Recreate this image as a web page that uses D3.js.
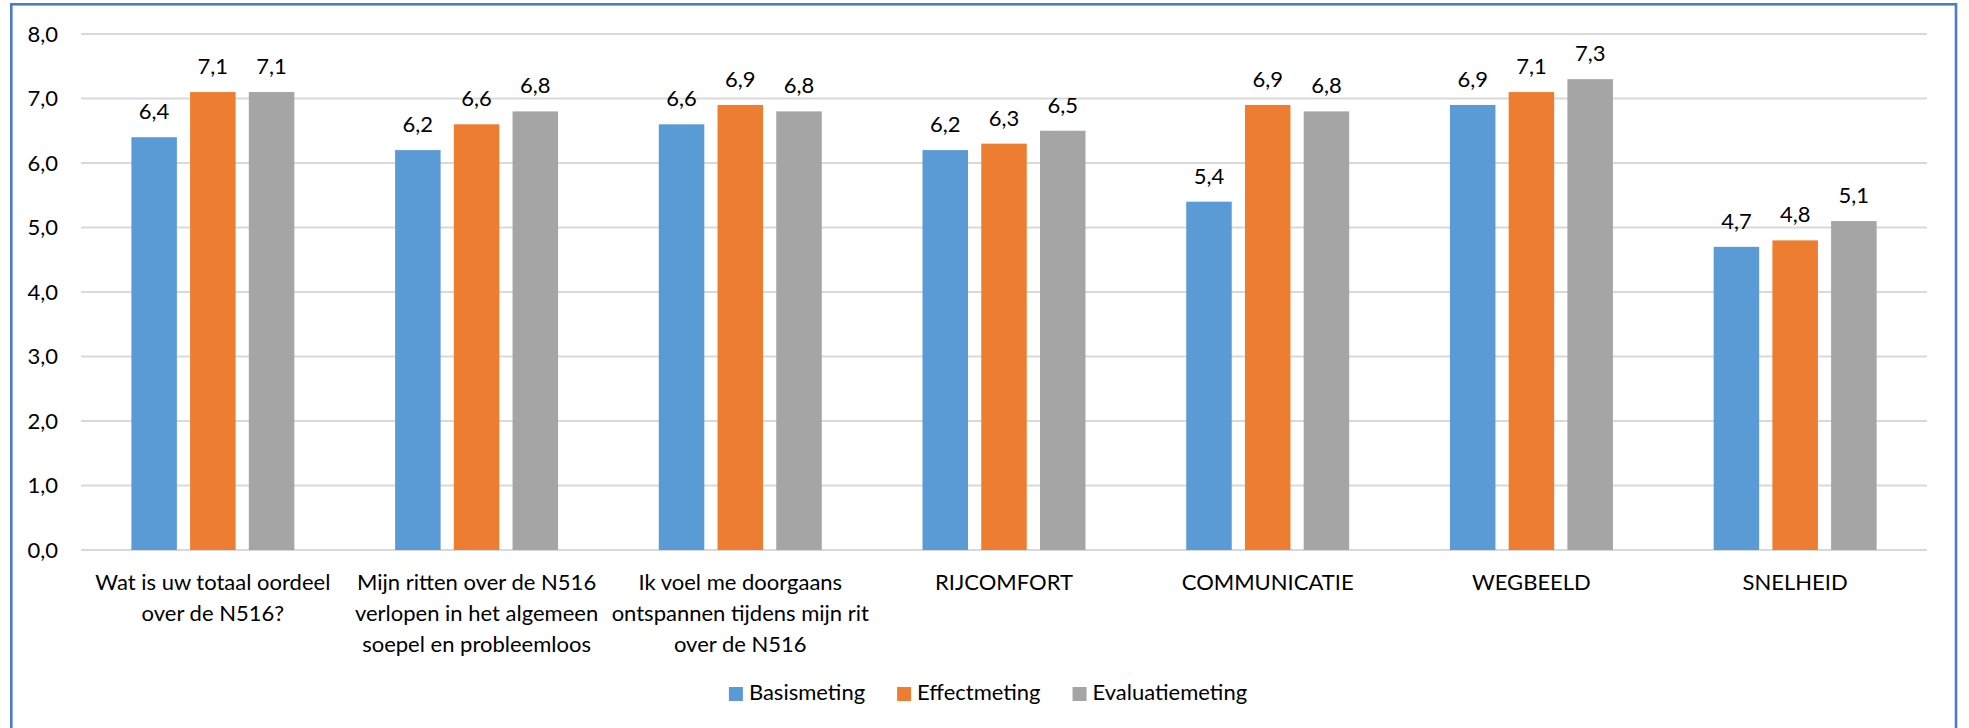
<!DOCTYPE html>
<html>
<head>
<meta charset="utf-8">
<script src="https://cdn.jsdelivr.net/npm/d3@7"></script>
<style>
  html, body { margin: 0; padding: 0; background: #ffffff; }
  svg { display: block; }
  text { font-family: Lato, "Open Sans", sans-serif; fill: #000; }
</style>
</head>
<body>
<svg id="chart" width="1969" height="728"></svg>
<script>
// Category labels; "\n" marks the line breaks used under the axis
const categories = [
  "Wat is uw totaal oordeel\nover de N516?",
  "Mijn ritten over de N516\nverlopen in het algemeen\nsoepel en probleemloos",
  "Ik voel me doorgaans\nontspannen tijdens mijn rit\nover de N516",
  "RIJCOMFORT",
  "COMMUNICATIE",
  "WEGBEELD",
  "SNELHEID"
];
const seriesNames = ["Basismeting", "Effectmeting", "Evaluatiemeting"];
const basismeting     = [6.4, 6.2, 6.6, 6.2, 5.4, 6.9, 4.7];
const effectmeting    = [7.1, 6.6, 6.9, 6.3, 6.9, 7.1, 4.8];
const evaluatiemeting = [7.1, 6.8, 6.8, 6.5, 6.8, 7.3, 5.1];
const yTicks = [0, 1, 2, 3, 4, 5, 6, 7, 8];
const colors = ["#5B9BD5", "#ED7D31", "#A5A5A5"];

const seriesValues = [basismeting, effectmeting, evaluatiemeting];
const fmt = v => d3.format(".1f")(v).replace(".", ",");

const svg = d3.select("#chart");
const plot = { left: 81, right: 1927, top: 34, bottom: 550 };

const x0 = d3.scaleBand().domain(d3.range(categories.length))
  .range([plot.left, plot.right]).padding(0);
const bw = x0.bandwidth();
const x1 = d3.scaleBand().domain(d3.range(seriesNames.length))
  .range([bw * 0.191, bw * 0.809]).paddingInner(0.225).paddingOuter(0);
const y = d3.scaleLinear().domain([0, 8]).range([plot.bottom, plot.top]);

// Outer frame
svg.append("rect")
  .attr("x", 11.3).attr("y", 4.3)
  .attr("width", 1956 - 11.3).attr("height", 760)
  .attr("fill", "none").attr("stroke", "#4A7CCB").attr("stroke-width", 2.6);

// Horizontal gridlines
svg.append("g").selectAll("line").data(yTicks).join("line")
  .attr("x1", plot.left).attr("x2", plot.right)
  .attr("y1", d => y(d)).attr("y2", d => y(d))
  .attr("stroke", "#D9D9D9").attr("stroke-width", 2);

// Y axis labels
const yAxis = d3.axisLeft(y).tickValues(yTicks).tickFormat(fmt).tickSize(0).tickPadding(0);
const yg = svg.append("g").attr("transform", "translate(58,0)").call(yAxis);
yg.select(".domain").remove();
yg.selectAll("text").attr("font-family", "Lato, sans-serif").attr("font-size", 22)
  .attr("fill", "#000");

// Bars
const groups = svg.append("g").selectAll("g").data(categories).join("g")
  .attr("transform", (d, i) => `translate(${x0(i)},0)`);

groups.selectAll("rect")
  .data((d, i) => seriesValues.map((vals, s) => ({ s, v: vals[i] })))
  .join("rect")
  .attr("x", d => x1(d.s))
  .attr("width", x1.bandwidth())
  .attr("y", d => y(d.v))
  .attr("height", d => y(0) - y(d.v))
  .attr("fill", d => colors[d.s]);

// Value labels
groups.selectAll("text.val")
  .data((d, i) => seriesValues.map((vals, s) => ({ s, v: vals[i] })))
  .join("text").attr("class", "val")
  .attr("x", d => x1(d.s) + x1.bandwidth() / 2)
  .attr("y", d => y(d.v) - 18)
  .attr("text-anchor", "middle")
  .attr("font-size", 22)
  .text(d => fmt(d.v));

// Category labels
const xg = svg.append("g");
categories.forEach((c, i) => {
  const t = xg.append("text")
    .attr("x", x0(i) + bw / 2).attr("y", 590)
    .attr("text-anchor", "middle").attr("font-size", 22);
  c.split("\n").forEach((line, k) => {
    t.append("tspan").attr("x", x0(i) + bw / 2).attr("y", 590 + k * 31).text(line);
  });
});

// Legend, centred under the plot
const legend = svg.append("g");
const items = seriesNames.map((name, s) => {
  const g = legend.append("g");
  g.append("rect").attr("x", 0).attr("y", 687).attr("width", 14).attr("height", 14)
    .attr("fill", colors[s]);
  const t = g.append("text").attr("x", 20).attr("y", 700).attr("font-size", 22).text(name);
  return { g, w: 20 + t.node().getComputedTextLength() };
});
const gap = 32;
const total = d3.sum(items, d => d.w) + gap * (items.length - 1);
let cx = 988 - total / 2;
items.forEach(it => {
  it.g.attr("transform", `translate(${cx},0)`);
  cx += it.w + gap;
});
</script>
</body>
</html>
